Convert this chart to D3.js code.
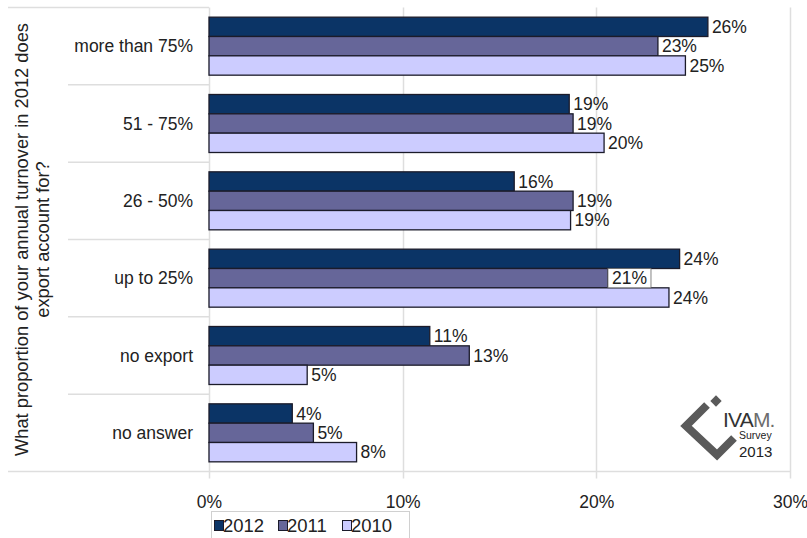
<!DOCTYPE html>
<html>
<head>
<meta charset="utf-8">
<script src="https://cdn.jsdelivr.net/npm/d3@7"></script>
<style>
  body { margin: 0; background: #fff; }
  text { font-family: "Liberation Sans", Arial, sans-serif; fill: #222; }
</style>
</head>
<body>
<svg id="chart" width="807" height="538"></svg>
<script>
// Share of annual turnover accounted for by export, by survey year (percent)
const categories = ["more than 75%", "51 - 75%", "26 - 50%", "up to 25%", "no export", "no answer"];
const years = ["2012", "2011", "2010"];
const share2012 = [25.76, 18.6, 15.76, 24.3, 11.4, 4.3];
const share2011 = [23.18, 18.8, 18.8, 20.6, 13.44, 5.39];
const share2010 = [24.6, 20.4, 18.67, 23.75, 5.07, 7.62];
const xTicks = [0, 10, 20, 30];
const axisTitle = ["What proportion of your annual turnover in 2012 does", "export account for?"];

const seriesValues = { "2012": share2012, "2011": share2011, "2010": share2010 };
const colors = { "2012": "#0b3466", "2011": "#666699", "2010": "#ccccff" };

const svg = d3.select("#chart");
const plot = { left: 209, right: 790, top: 7.5, bottom: 471.5 };

const x = d3.scaleLinear().domain([0, 30]).range([plot.left, plot.right]);
const y0 = d3.scaleBand().domain(categories).range([plot.top, plot.bottom]);
const y1 = d3.scaleBand().domain(years).range([0, y0.bandwidth()]).paddingOuter(0.5);

// vertical gridlines with short ticks below the axis
svg.append("g").selectAll("line").data(xTicks).join("line")
  .attr("x1", d => Math.round(x(d)) + 0.5).attr("x2", d => Math.round(x(d)) + 0.5)
  .attr("y1", plot.top).attr("y2", plot.bottom + 7)
  .attr("stroke", "#dedede").attr("stroke-width", 1.5);

// category separators
const sep = svg.append("g").attr("stroke", "#dedede").attr("stroke-width", 1.5);
categories.forEach((c, i) => {
  sep.append("line")
    .attr("x1", i === 0 ? 8 : 68).attr("x2", plot.left)
    .attr("y1", y0(c)).attr("y2", y0(c));
});
sep.append("line").attr("x1", 8).attr("x2", plot.right)
  .attr("y1", plot.bottom).attr("y2", plot.bottom);

// x axis labels
const xAxis = svg.append("g")
  .attr("transform", `translate(0,${plot.bottom})`)
  .call(d3.axisBottom(x).tickValues(xTicks).tickFormat(d => d + "%").tickSize(0));
xAxis.select(".domain").remove();
xAxis.selectAll("text")
  .attr("y", 36).attr("dy", 0)
  .style("font-size", "17.5px").style("font-family", "Liberation Sans, Arial, sans-serif")
  .attr("fill", "#222");

// category labels
svg.append("g").selectAll("text").data(categories).join("text")
  .attr("x", 193).attr("y", d => y0(d) + y0.bandwidth() / 2)
  .attr("dy", "0.35em").attr("text-anchor", "end")
  .style("font-size", "17.5px")
  .text(d => d);

// axis title (two lines, rotated)
const title = svg.append("text")
  .attr("transform", `translate(28,${(plot.top + plot.bottom) / 2}) rotate(-90)`)
  .attr("text-anchor", "middle").style("font-size", "18.3px");
axisTitle.forEach((line, i) => {
  title.append("tspan").attr("x", 0).attr("y", i * 21).text(line);
});

// bars
const rows = categories.flatMap((c, i) => years.map(yr => ({ cat: c, year: yr, value: seriesValues[yr][i] })));
svg.append("g").selectAll("rect").data(rows).join("rect")
  .attr("x", x(0))
  .attr("y", d => y0(d.cat) + y1(d.year))
  .attr("width", d => x(d.value) - x(0))
  .attr("height", y1.bandwidth())
  .attr("fill", d => colors[d.year])
  .attr("stroke", "#1b1b2a").attr("stroke-width", 1.3);

// value labels; a label that sits between two longer neighbouring bars gets a framed backing
const labels = svg.append("g").selectAll("g").data(rows).join("g");
labels.each(function (d, i) {
  const g = d3.select(this);
  const ci = categories.indexOf(d.cat);
  const yi = years.indexOf(d.year);
  const above = yi > 0 ? seriesValues[years[yi - 1]][ci] : -Infinity;
  const below = yi < years.length - 1 ? seriesValues[years[yi + 1]][ci] : -Infinity;
  const lx = x(d.value) + 4;
  const ly = y0(d.cat) + y1(d.year);
  const t = g.append("text")
    .attr("x", lx).attr("y", ly + y1.bandwidth() / 2).attr("dy", "0.36em")
    .style("font-size", "17.5px")
    .text(Math.round(d.value) + "%");
  const w = t.node().getComputedTextLength();
  if (x(above) > lx + w + 4 && x(below) > lx + w + 4) {
    g.insert("rect", "text")
      .attr("x", x(d.value)).attr("y", ly)
      .attr("width", w + 8).attr("height", y1.bandwidth())
      .attr("fill", "#fff").attr("stroke", "#666").attr("stroke-width", 0.8);
  }
});

// legend
const legend = svg.append("g");
legend.append("rect").attr("x", 211.5).attr("y", 511.5).attr("width", 198).attr("height", 30)
  .attr("fill", "#fff").attr("stroke", "#d0d0d0");
years.forEach((yr, i) => {
  const gx = 214 + i * 64;
  legend.append("rect").attr("x", gx + 0.5).attr("y", 520.5).attr("width", 9).attr("height", 10)
    .attr("fill", colors[yr]).attr("stroke", "#1b1b2a").attr("stroke-width", 1);
  legend.append("text").attr("x", gx + 9).attr("y", 532).style("font-size", "18.5px").text(yr);
});

// survey logo
const logo = svg.append("g");
logo.append("path")
  .attr("d", "M707,405 L686,426 L717,455 L734,438")
  .attr("fill", "none").attr("stroke", "#5a5a5a").attr("stroke-width", 8)
  .attr("stroke-linejoin", "miter");
logo.append("rect").attr("x", -4).attr("y", -4).attr("width", 8).attr("height", 8)
  .attr("transform", "translate(716,401) rotate(45)").attr("fill", "#5a5a5a");
const brand = logo.append("text").attr("x", 723).attr("y", 427)
  .style("font-size", "21px").style("letter-spacing", "-0.8px");
brand.append("tspan").attr("fill", "#333").text("IVA");
brand.append("tspan").attr("fill", "#6d6d6d").text("M.");
logo.append("text").attr("x", 739).attr("y", 439).style("font-size", "10.5px").attr("fill", "#444").text("Survey");
logo.append("text").attr("x", 739).attr("y", 457).style("font-size", "15px").attr("fill", "#444").text("2013");
</script>
</body>
</html>
